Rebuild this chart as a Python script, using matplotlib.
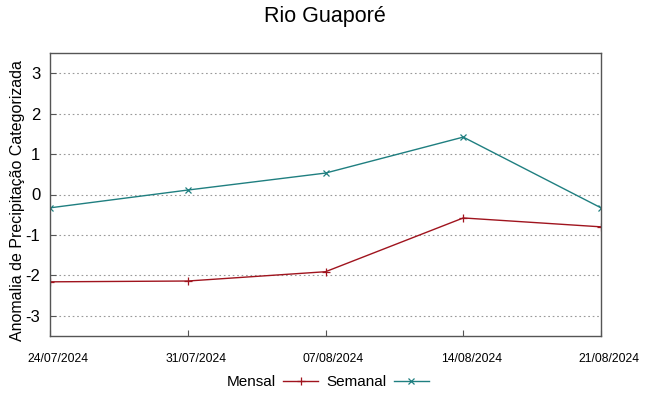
import matplotlib
matplotlib.use('Agg')
import matplotlib.pyplot as plt
import matplotlib.transforms as mtransforms
import numpy as np

datas = ['24/07/2024', '31/07/2024', '07/08/2024', '14/08/2024', '21/08/2024']
mensal = [-2.16, -2.14, -1.91, -0.58, -0.80]
semanal = [-0.33, 0.11, 0.53, 1.42, -0.33]

plt.rcParams['font.family'] = ['Liberation Sans', 'DejaVu Sans']
plt.rcParams['axes.unicode_minus'] = False

fig = plt.figure(figsize=(6.49, 3.96), dpi=100)
ax = fig.add_axes([50/649, 1-336/396, 551/649, 283/396])

x = np.arange(len(datas))
ax.plot(x, mensal, color='#a0141e', lw=1.0, marker='+', ms=6, mew=0.9, label='Mensal')
ax.plot(x, semanal, color='#1f7f80', lw=1.0, marker='x', ms=5, mew=0.9, label='Semanal')

ax.set_xlim(0, len(datas)-1)
ax.set_ylim(-3.5, 3.5)
ax.set_yticks([-3, -2, -1, 0, 1, 2, 3])
ax.set_xticks(x)
ax.set_xticklabels(datas, family=['Liberation Sans Narrow', 'Liberation Sans'], fontsize=8.7)
ax.tick_params(axis='y', labelsize=12, direction='in', length=4, color='#555555', pad=7)
ax.tick_params(axis='x', direction='in', length=4, color='#555555', pad=12)
# labels sit a bit to the right of the ticks, like in the original
offset = mtransforms.ScaledTranslation(8/100, 0, fig.dpi_scale_trans)
for lbl in ax.get_xticklabels():
    lbl.set_transform(lbl.get_transform() + offset)
ax.grid(axis='y', linestyle=(0, (1.5, 2.5)), color='#999999', lw=0.8)
for s in ax.spines.values():
    s.set_color('#555555')
    s.set_linewidth(1.0)

ax.set_ylabel('Anomalia de Precipitação Categorizada', fontsize=11.5)
ax.yaxis.set_label_coords(-0.046, 0.479)
fig.suptitle('Rio Guaporé', fontsize=15.5, y=0.985)

fig.legend(loc='center', bbox_to_anchor=(0.505, 1-382/396), ncol=2, frameon=False,
           markerfirst=False, fontsize=11, handlelength=2.3, columnspacing=0.5, handletextpad=0.5)

fig.savefig('out.png', dpi=100)
